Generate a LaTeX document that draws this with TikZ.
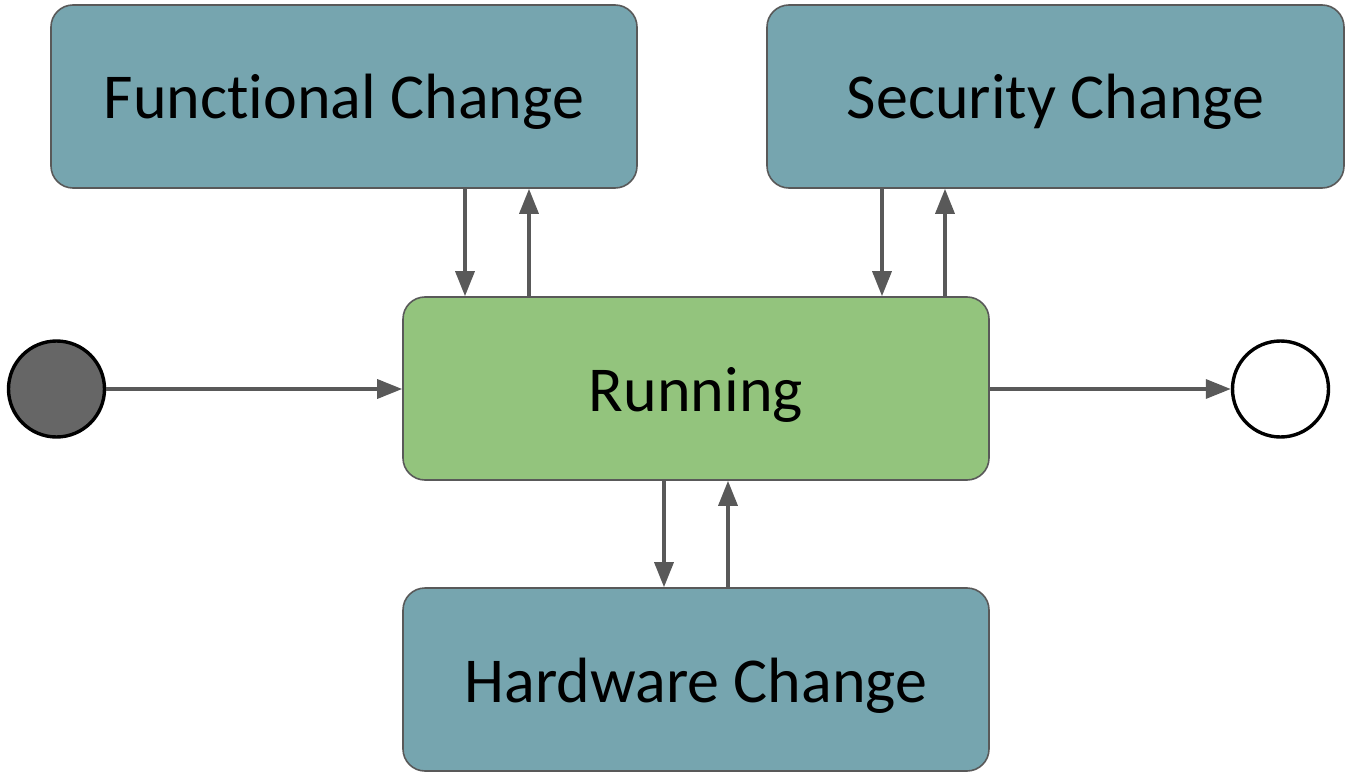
\documentclass[tikz,border=0pt]{standalone}
\usepackage{fontspec}
\setmainfont[Ligatures=NoCommon]{Carlito}
\usetikzlibrary{arrows.meta}
\definecolor{statecyan}{HTML}{76A5AF}
\definecolor{stategreen}{HTML}{93C47D}
\definecolor{edgegray}{HTML}{595959}
\definecolor{startfill}{HTML}{666666}
\tikzset{
  x=1pt, y=-1pt,
  statebox/.style={draw=edgegray, line width=1.6pt, rounded corners=22pt,
    minimum width=586pt, minimum height=183pt, inner sep=0pt,
    text height=45pt, text depth=0pt,
    font=\fontsize{64}{64}\selectfont, text=black},
  changebox/.style={statebox, fill=statecyan},
  runbox/.style={statebox, fill=stategreen},
  pseudo/.style={circle, draw=black, line width=3.4pt, minimum size=96pt, inner sep=0pt},
  arr/.style={draw=edgegray, line width=3.4pt,
    -{Triangle[length=25pt, width=19pt]}},
}
\begin{document}
\begin{tikzpicture}
  \useasboundingbox (0,0) rectangle (1345,773);
  % states
  \node[changebox] (func) at (344,96.5) {Functional Change};
  \node[changebox, minimum width=577pt] (sec) at (1055.5,96.5) {Security Change};
  \node[runbox] (run) at (696,388.5) {Running};
  \node[changebox] (hw) at (696,679.5) {Hardware Change};
  % initial and final pseudo-states
  \node[pseudo, fill=startfill] (init) at (56.5,389) {};
  \node[pseudo, fill=white] (final) at (1280.5,389) {};
  % transitions
  \draw[arr] (init) -- (run.west |- init);
  \draw[arr] (run.east |- final) -- (final);
  \draw[arr] (func.south -| 465,0) -- (run.north -| 465,0);
  \draw[arr] (run.north -| 529,0) -- (func.south -| 529,0);
  \draw[arr] (sec.south -| 882,0) -- (run.north -| 882,0);
  \draw[arr] (run.north -| 945,0) -- (sec.south -| 945,0);
  \draw[arr] (run.south -| 664,0) -- (hw.north -| 664,0);
  \draw[arr] (hw.north -| 728,0) -- (run.south -| 728,0);
\end{tikzpicture}
\end{document}
